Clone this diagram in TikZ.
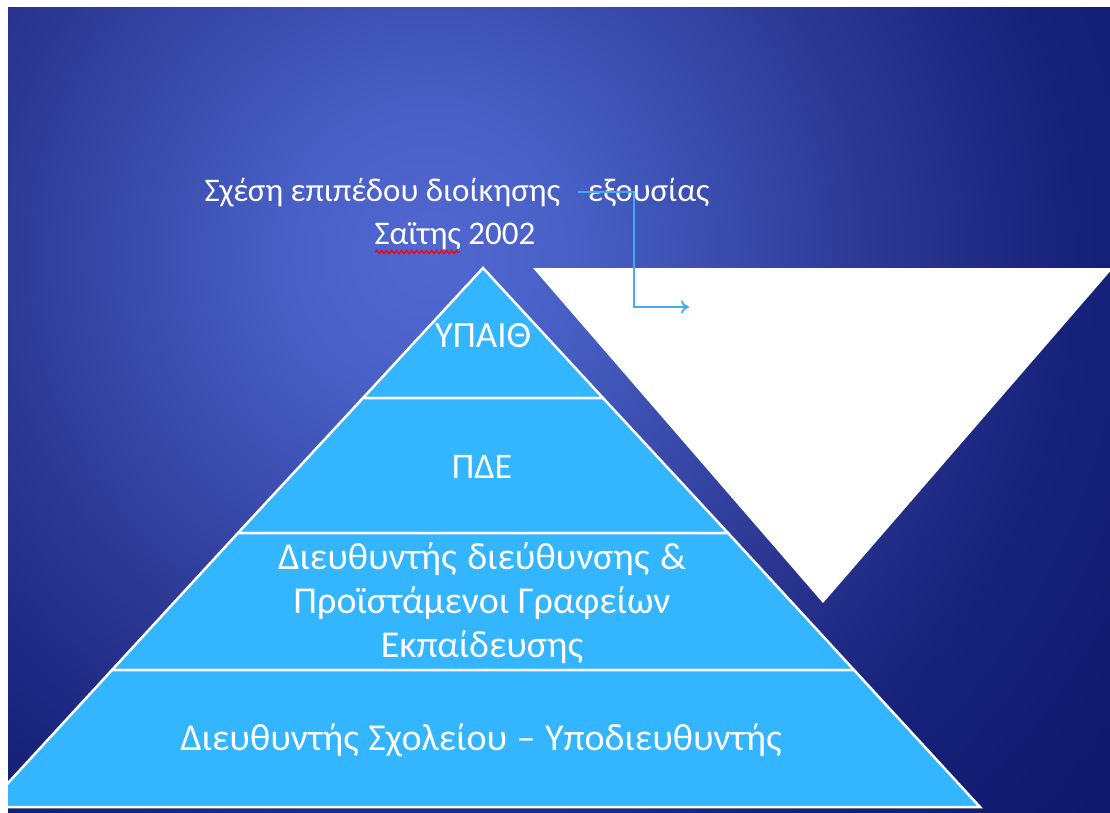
\documentclass[tikz,border=0pt]{standalone}
\usepackage{fontspec}
\setmainfont{Carlito}
\usetikzlibrary{arrows.meta,decorations.pathmorphing}
\definecolor{layerfill}{HTML}{33B5FF}
\definecolor{conncol}{HTML}{45AAF2}
\definecolor{bgA}{HTML}{5068D0}
\definecolor{bgB}{HTML}{4860C6}
\definecolor{bgC}{HTML}{2B3792}
\definecolor{bgD}{HTML}{16217A}
\definecolor{bgE}{HTML}{0E196A}
\pgfdeclareradialshading{bgshade}{\pgfpoint{0bp}{0bp}}{color(0bp)=(bgA); color(4bp)=(bgB); color(12.5bp)=(bgC); color(18bp)=(bgD); color(25bp)=(bgE); color(50bp)=(bgE)}
\tikzset{
  layer/.style={fill=layerfill, draw=white, line width=2.5pt, line join=miter},
  lbl/.style={text=white, align=center, inner sep=0pt},
  conn/.style={draw=conncol, line width=1.8pt, -{To[length=8pt,width=13pt,line width=1.8pt]}},
}
\begin{document}
\begin{tikzpicture}[x=1pt,y=-1pt]
\useasboundingbox (0,0) rectangle (1110,812);
\fill[white] (0,0) rectangle (1110,812);
\begin{scope}
\clip (8,7) rectangle (1110,812);
\shade[shading=bgshade] (430,255) circle (900);
% inverted white triangle
\fill[white] (533,268) -- (1113,268) -- (823,603) -- cycle;
% pyramid layers
\path[layer] (483,268) -- (603,398) -- (363,398) -- cycle;
\path[layer] (363,398) -- (603,398) -- (728,533) -- (238,533) -- cycle;
\path[layer] (238,533) -- (728,533) -- (854,670) -- (112,670) -- cycle;
\path[layer] (112,670) -- (854,670) -- (980,807) -- (-14,807) -- cycle;
\end{scope}
% labels
\node[lbl, font=\fontsize{37}{40}\selectfont] (l1) at (483,336) {ΥΠΑΙΘ};
\node[lbl, font=\fontsize{36}{40}\selectfont] (l2) at (482,467) {ΠΔΕ};
\node[lbl, font=\fontsize{38}{44}\selectfont] (l3) at (482,603) {Διευθυντής\hspace{0.28em}διεύθυνσης\hspace{0.28em}\&\\Προϊστάμενοι Γραφείων\\Εκπαίδευσης};
\node[lbl, font=\fontsize{38}{44}\selectfont] (l4) at (481,740) {Διευθυντής\hspace{0.25em}Σχολείου\hspace{0.25em}–\hspace{0.25em}Υποδιευθυντής};
\node[lbl, font=\fontsize{33}{43}\selectfont, anchor=base] (t1) at (457,201) {Σχέση επιπέδου διοίκησης\hspace{0.85em}εξουσίας};
\node[lbl, font=\fontsize{33}{43}\selectfont, anchor=base] (t2) at (455,244) {Σαϊτης 2002};
\draw[red, line width=1.3pt, decorate, decoration={snake, amplitude=1.5pt, segment length=5pt}] (375,252) -- (460,252);
% connector
\coordinate (cs) at (578,192);
\coordinate (cm) at (634,307);
\coordinate (ce) at (689,307);
\draw[conn] (cs) -| (cm) -- (ce);
\end{tikzpicture}
\end{document}
